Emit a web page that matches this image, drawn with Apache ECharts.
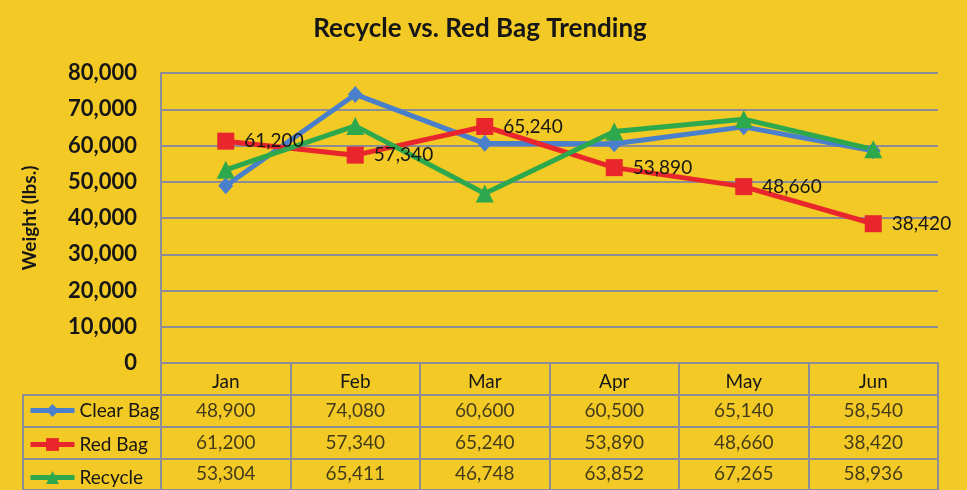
<!DOCTYPE html>
<html>
<head>
<meta charset="utf-8">
<script src="https://cdn.jsdelivr.net/npm/echarts@6/dist/echarts.min.js"></script>
<style>
  html, body { margin: 0; padding: 0; background: #f2c925; }
  #chart { width: 967px; height: 490px; }
</style>
</head>
<body>
<div id="chart"></div>
<script>
// 数据
const months = ['Jan', 'Feb', 'Mar', 'Apr', 'May', 'Jun']
const seriesNames = ['Clear Bag', 'Red Bag', 'Recycle']
const clearBag = [48900, 74080, 60600, 60500, 65140, 58540]
const redBag = [61200, 57340, 65240, 53890, 48660, 38420]
const recycle = [53304, 65411, 46748, 63852, 67265, 58936]
const yTicks = [0, 10000, 20000, 30000, 40000, 50000, 60000, 70000, 80000]

const fmt = (v) => v.toLocaleString('en-US')
const gray = '#8a8c98'
const font = 'Lato'
const colors = ['#4a7fcc', '#e8262b', '#2ea84c']
const rows = [clearBag, redBag, recycle]

const chart = echarts.init(document.getElementById('chart'))

// 表格单元格: [月份索引, 行索引, 值]
const cellSeries = rows.map((vals, r) => ({
  type: 'scatter',
  xAxisIndex: 1,
  yAxisIndex: 1,
  symbolSize: 1,
  itemStyle: { color: 'rgba(0,0,0,0)' },
  silent: true,
  label: {
    show: true,
    position: 'inside',
    formatter: (p) => fmt(p.value[2]),
    color: '#161616',
    fontFamily: font,
    fontSize: 19
  },
  data: vals.map((v, i) => [i, r, v])
}))

// 表格左列图例, 每行一个
const legendTops = [401, 435, 468]
const legends = seriesNames.map((name, i) => ({
  left: 28,
  top: legendTops[i],
  padding: 0,
  itemWidth: 44,
  itemHeight: 16,
  data: [name],
  lineStyle: { width: 5 },
  textStyle: { fontFamily: font, fontSize: 19, color: '#161616' }
}))

const option = {
  backgroundColor: '#f2c925',
  animation: false,
  title: {
    text: 'Recycle vs. Red Bag Trending',
    left: 475,
    textAlign: 'center',
    top: 11,
    textStyle: { fontFamily: font, fontSize: 26, fontWeight: 'bold', color: '#161616' }
  },
  legend: legends,
  grid: [
    { left: 161, right: 29, top: 73, bottom: 127 },
    { left: 161, right: 29, top: 395, height: 100, show: true, borderColor: gray, borderWidth: 2 },
    { left: 23, width: 138, top: 395, height: 100, show: true, borderColor: gray, borderWidth: 2 }
  ],
  xAxis: [
    {
      type: 'category',
      gridIndex: 0,
      data: months,
      boundaryGap: true,
      axisLine: { lineStyle: { color: gray, width: 2 } },
      axisTick: { show: true, length: 32, interval: 0, lineStyle: { color: gray, width: 2 } },
      axisLabel: { margin: 9, fontFamily: font, fontSize: 19, color: '#161616' }
    },
    {
      type: 'category',
      gridIndex: 1,
      data: months,
      axisLine: { show: false },
      axisTick: { show: false },
      axisLabel: { show: false },
      splitLine: { show: true, interval: 0, lineStyle: { color: gray, width: 2 } }
    },
    {
      type: 'value',
      gridIndex: 2,
      show: false
    }
  ],
  yAxis: [
    {
      type: 'value',
      gridIndex: 0,
      min: 0,
      max: 80000,
      interval: 10000,
      name: 'Weight (lbs.)',
      nameLocation: 'middle',
      nameGap: 122,
      nameTextStyle: { fontFamily: font, fontSize: 19, fontWeight: 'bold', color: '#161616' },
      axisLine: { show: true, lineStyle: { color: gray, width: 2 } },
      axisTick: { show: false },
      splitLine: { lineStyle: { color: gray, width: 2 } },
      axisLabel: {
        margin: 24,
        fontFamily: font,
        fontSize: 22,
        fontWeight: 'bold',
        color: '#161616',
        formatter: (v) => yTicks.includes(v) ? fmt(v) : ''
      }
    },
    {
      type: 'category',
      gridIndex: 1,
      data: seriesNames,
      inverse: true,
      axisLine: { show: false },
      axisTick: { show: false },
      axisLabel: { show: false },
      splitLine: { show: true, interval: 0, lineStyle: { color: gray, width: 2 } }
    },
    {
      type: 'category',
      gridIndex: 2,
      data: seriesNames,
      inverse: true,
      axisLine: { show: false },
      axisTick: { show: false },
      axisLabel: { show: false },
      splitLine: { show: true, interval: 0, lineStyle: { color: gray, width: 2 } }
    }
  ],
  series: [
    {
      name: 'Clear Bag',
      type: 'line',
      data: clearBag,
      symbol: 'diamond',
      symbolSize: [15, 17],
      color: colors[0],
      lineStyle: { width: 5 }
    },
    {
      name: 'Red Bag',
      type: 'line',
      data: redBag,
      symbol: 'rect',
      symbolSize: 17,
      color: colors[1],
      lineStyle: { width: 5 },
      label: {
        show: true,
        position: 'right',
        distance: 10,
        formatter: (p) => fmt(p.value),
        fontFamily: font,
        fontSize: 19,
        color: '#161616'
      }
    },
    {
      name: 'Recycle',
      type: 'line',
      data: recycle,
      symbol: 'triangle',
      symbolSize: 18,
      color: colors[2],
      lineStyle: { width: 5 }
    },
    ...cellSeries
  ]
}
chart.setOption(option)
</script>
</body>
</html>
